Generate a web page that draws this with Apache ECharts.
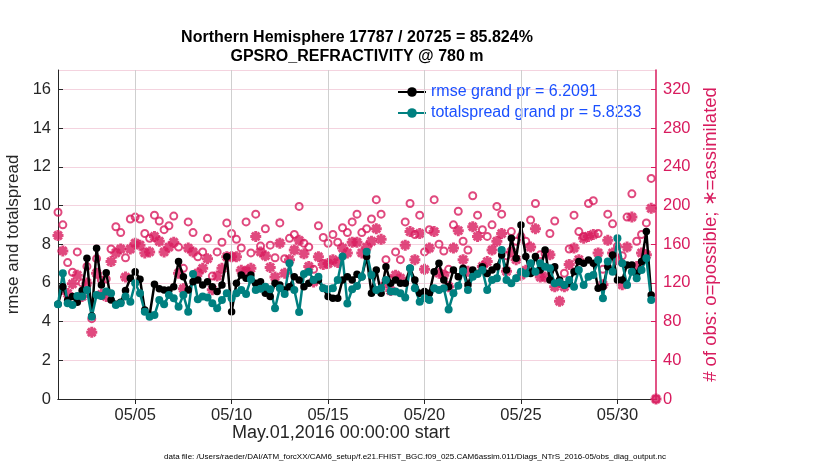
<!DOCTYPE html>
<html>
<head>
<meta charset="utf-8">
<script src="https://cdn.jsdelivr.net/npm/echarts@6/dist/echarts.min.js"></script>
<style>
  html, body { margin: 0; padding: 0; background: #fff; }
  #chart { width: 830px; height: 470px; }
</style>
</head>
<body>
<div id="chart"></div>
<script>
// 6-hourly bins from May.01,2016 00:00 (day-of-month units)
const rmse = [
  4.9, 5.8, 5.1, 5.3, 5.0, 5.6, 7.27, 4.29, 7.79, 5.89, 6.53, 5.12, 4.9, 5.0, 5.6, 6.24, 6.58, 6.19, 4.6, 4.34, 5.93, 5.7,
  5.63, 5.63, 5.8, 7.1, 6.32, 5.63, 6.06, 6.15, 5.89, 6.06, 5.8, 5.55, 5.89, 7.35, 4.51, 5.98, 6.41, 6.24, 6.41, 5.98, 6.06,
  5.46, 5.29, 5.98, 5.89, 5.63, 5.8, 6.32, 6.15, 5.8, 5.98, 6.15, 6.15, 5.72, 5.29, 5.2, 5.2, 6.15, 6.32, 6.15, 6.45, 6.32,
  7.36, 5.46, 6.67, 5.46, 6.84, 5.98, 6.15, 5.98, 5.98, 6.75, 6.15, 5.46, 5.55, 5.46, 6.58, 7.01, 6.15, 5.8, 6.67, 6.32, 6.75,
  5.89, 6.67, 6.49, 6.84, 6.49, 6.67, 6.84, 7.44, 6.67, 8.3, 7.27, 8.99, 7.36, 6.49, 7.36, 6.67, 7.7, 6.15, 6.84,
  6.15, 5.89, 5.98, 6.58, 7.1, 7.01, 7.18, 7.01, 5.72, 5.8, 6.84, 7.44, 6.15, 6.15, 6.93, 6.93, 6.49, 7.1, 8.65, 5.37
];
const spread = [
  4.89, 6.5, 4.95, 4.86, 5.32, 5.29, 5.63, 4.25, 5.37, 5.32, 5.55, 5.46, 4.86, 4.95, 5.29, 5.03, 5.98, 5.46, 4.51, 4.25, 4.34, 5.12,
  4.89, 5.37, 5.2, 4.77, 5.37, 4.51, 6.46, 5.15, 5.29, 5.25, 4.95, 4.69, 5.12, 5.46, 5.2, 5.46, 5.63, 5.43, 6.19, 5.63, 5.7,
  5.8, 5.67, 4.69, 5.72, 5.43, 7.01, 5.63, 4.5, 6.46, 6.58, 6.15, 6.32, 5.72, 5.67, 5.72, 6.15, 7.36, 4.94, 5.67, 5.84, 6.32,
  7.61, 6.41, 5.63, 5.72, 6.15, 5.55, 5.55, 5.46, 5.25, 6.75, 5.72, 5.03, 5.2, 5.12, 5.72, 5.63, 5.72, 4.63, 5.46, 5.85, 6.6,
  5.63, 6.32, 6.46, 6.67, 5.63, 6.15, 6.24, 7.7, 6.15, 5.98, 6.24, 6.58, 6.49, 7.01, 6.58, 7.01, 6.84, 6.75, 5.98,
  6.03, 5.89, 6.15, 5.8, 6.67, 5.89, 6.32, 6.41, 7.18, 5.2, 7.1, 6.58, 8.3, 7.01, 5.89, 6.58, 6.24, 6.67, 7.27, 5.12
];
const possible = [
  193, 180, 141, 131, 152, 120, 137, 83, 145, 123, 124, 155, 178, 172, 146, 186, 188, 186, 171, 166, 190, 184,
  175, 179, 189, 157, 135, 183, 172, 147, 152, 166, 127, 152, 162, 182, 171, 165, 156, 183, 151, 191, 158,
  176, 159, 146, 182, 145, 166, 170, 199, 161, 157, 134, 179, 167, 161, 170, 162, 177, 172, 183, 191, 172,
  176, 186, 206, 191, 144, 123, 152, 144, 183, 202, 170, 190, 152, 175, 206, 160, 153, 134, 180, 194, 163,
  154, 210, 190, 175, 168, 180, 199, 191, 148, 173, 163, 168, 163, 185, 202, 149, 150, 171, 184,
  120, 130, 155, 190, 173, 168, 202, 205, 171, 134, 191, 181, 158, 148, 188, 212, 163, 170, 182, 228, 0
];
const assimilated = [
  169, 153, 109, 119, 128, 106, 120, 69, 130, 108, 106, 142, 151, 155, 126, 155, 161, 159, 151, 152, 168, 163,
  152, 157, 162, 130, 114, 156, 152, 130, 135, 145, 113, 127, 135, 147, 147, 147, 133, 132, 135, 168, 152,
  148, 136, 126, 161, 130, 144, 154, 164, 150, 137, 121, 147, 139, 140, 144, 141, 156, 151, 162, 162, 151,
  157, 163, 176, 165, 120, 112, 128, 125, 159, 173, 144, 171, 134, 156, 173, 130, 128, 116, 156, 174, 144,
  132, 178, 168, 137, 142, 154, 163, 171, 132, 152, 144, 128, 133, 157, 176, 126, 126, 149, 116,
  101, 116, 139, 156, 144, 166, 168, 170, 151, 118, 164, 151, 144, 118, 157, 188, 137, 151, 149, 197, 0
];
const dayTicks = [5, 10, 15, 20, 25, 30];
const times = possible.map((_, i) => 1 + i / 4);

const titleLines = ['Northern Hemisphere 17787 / 20725 = 85.824%', 'GPSRO_REFRACTIVITY @ 780 m'];
const rmseName = 'rmse grand pr = 6.2091';
const spreadName = 'totalspread grand pr = 5.8233';

const FONT = '"Liberation Sans", Arial, Helvetica, sans-serif';
const DARK = '#262626';
const OBS = '#d81b5e';
const TEAL = '#008080';
const STAR = 'path://M10,0L10,20M0,10L20,10M3,3L17,17M3,17L17,3';

const pairs = (vals) => vals.map((v, i) => [times[i], v]);

const chart = echarts.init(document.getElementById('chart'));
chart.setOption({
  animation: false,
  backgroundColor: '#fff',
  textStyle: { fontFamily: FONT },
  title: {
    text: titleLines.join('\n'),
    left: 352,
    textAlign: 'center',
    top: 23,
    textStyle: { fontFamily: FONT, fontSize: 16, fontWeight: 'bold', color: '#000', lineHeight: 19 }
  },
  legend: {
    data: [rmseName, spreadName],
    orient: 'vertical',
    left: 397,
    top: 84,
    padding: 0,
    itemWidth: 28,
    itemHeight: 12,
    itemGap: 5,
    textStyle: { fontFamily: FONT, fontSize: 16, color: '#1a50ff' }
  },
  grid: { left: 58, right: 174, top: 70, bottom: 71, outerBoundsMode: 'none' },
  xAxis: [{
    type: 'value', min: 1, max: 32, position: 'bottom',
    axisLine: { lineStyle: { color: DARK } },
    axisTick: { inside: true, length: 5, customValues: dayTicks, lineStyle: { color: DARK } },
    axisLabel: {
      customValues: dayTicks, color: DARK, fontSize: 16.5, margin: 8,
      formatter: v => '05/' + String(v).padStart(2, '0')
    },
    splitLine: { show: false }
  }, {
    type: 'value', min: 1, max: 32, position: 'top',
    axisLine: { show: true, lineStyle: { color: DARK } },
    axisTick: { inside: true, length: 5, customValues: dayTicks, lineStyle: { color: DARK } },
    axisLabel: { show: false },
    splitLine: { show: false }
  }],
  yAxis: [{
    type: 'value', min: 0, max: 17, interval: 2, position: 'left',
    name: 'rmse and totalspread', nameLocation: 'middle', nameGap: 34,
    nameTextStyle: { fontSize: 17, color: DARK },
    axisLine: { show: true, lineStyle: { color: DARK } },
    axisTick: { show: true, inside: true, length: 5, lineStyle: { color: DARK } },
    axisLabel: { color: DARK, fontSize: 16.5, margin: 7, showMaxLabel: false },
    splitLine: { show: false }
  }, {
    type: 'value', min: 0, max: 340, interval: 40, position: 'right',
    name: '# of obs: o=possible; \u2217=assimilated', nameLocation: 'middle', nameGap: 42, nameRotate: 90,
    nameTextStyle: { fontSize: 18.5, color: OBS },
    axisLine: { show: true, lineStyle: { color: OBS, width: 1.5 } },
    axisTick: { show: true, inside: true, length: 5, lineStyle: { color: OBS } },
    axisLabel: { color: OBS, fontSize: 16.5, margin: 7, showMaxLabel: false },
    splitLine: { show: true, lineStyle: { color: '#f4d3df', width: 1 } }
  }],
  graphic: [{
    type: 'text', left: 232, top: 424,
    style: { text: 'May.01,2016 00:00:00 start', font: '18px ' + FONT, fill: DARK }
  }, {
    type: 'text', left: 'center', top: 453,
    style: {
      text: 'data file: /Users/raeder/DAI/ATM_forcXX/CAM6_setup/f.e21.FHIST_BGC.f09_025.CAM6assim.011/Diags_NTrS_2016-05/obs_diag_output.nc',
      font: '8px ' + FONT, fill: '#000'
    }
  }],
  series: [{
    name: 'grid', type: 'line', data: [], z: 1, silent: true,
    markLine: {
      silent: true, symbol: ['none', 'none'], label: { show: false },
      lineStyle: { color: '#cfcfcf', width: 1, type: 'solid' },
      data: dayTicks.map(d => ({ xAxis: d }))
    }
  }, {
    name: rmseName, type: 'line', xAxisIndex: 0, yAxisIndex: 0,
    data: pairs(rmse),
    symbol: 'circle', symbolSize: 7.5, showSymbol: true, showAllSymbol: true,
    itemStyle: { color: '#000' },
    lineStyle: { color: '#000', width: 2.5 }
  }, {
    name: spreadName, type: 'line', xAxisIndex: 0, yAxisIndex: 0,
    data: pairs(spread),
    symbol: 'circle', symbolSize: 8, showSymbol: true, showAllSymbol: true,
    itemStyle: { color: TEAL },
    lineStyle: { color: TEAL, width: 2.5 }
  }, {
    name: 'possible', type: 'scatter', xAxisIndex: 0, yAxisIndex: 1,
    data: pairs(possible),
    symbol: 'circle', symbolSize: 7,
    itemStyle: { color: 'rgba(255,255,255,0)', borderColor: OBS, borderWidth: 2 }
  }, {
    name: 'assimilated', type: 'scatter', xAxisIndex: 0, yAxisIndex: 1,
    data: pairs(assimilated),
    symbol: STAR, symbolSize: 11,
    itemStyle: { color: OBS, borderColor: OBS, borderWidth: 3 }
  }]
});
</script>
</body>
</html>
